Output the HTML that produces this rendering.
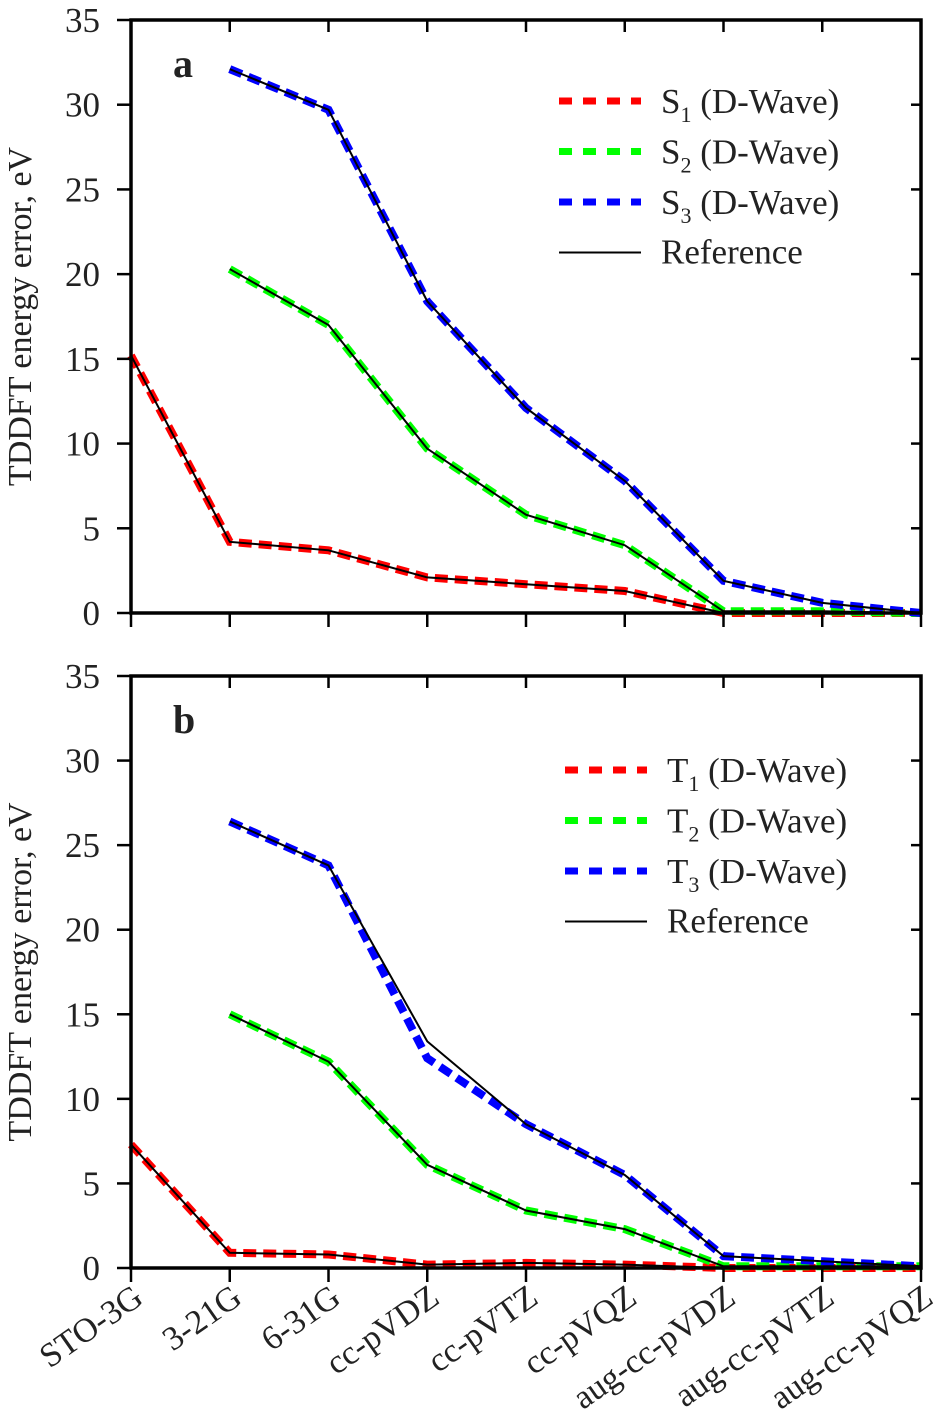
<!DOCTYPE html>
<html><head><meta charset="utf-8"><style>
body{margin:0;background:#fff}
svg{display:block}
text{font-family:"Liberation Serif","Times New Roman",serif}
</style></head><body>
<svg id="chart" width="944" height="1428" viewBox="0 0 944 1428" xmlns="http://www.w3.org/2000/svg"></svg>
<script>
const categories=["STO-3G","3-21G","6-31G","cc-pVDZ","cc-pVTZ","cc-pVQZ","aug-cc-pVDZ","aug-cc-pVTZ","aug-cc-pVQZ"];
const yTicks=[0,5,10,15,20,25,30,35];
const s1=[15.2,4.2,3.7,2.1,1.7,1.3,0.0,0.0,0.0];
const s2=[null,20.3,17.0,9.7,5.8,4.0,0.1,0.1,0.0];
const s3=[null,32.1,29.7,18.4,12.1,7.8,1.9,0.6,0.0];
const s1Ref=[15.2,4.2,3.7,2.1,1.7,1.3,0.0,0.0,0.0];
const s2Ref=[null,20.3,17.0,9.7,5.8,4.0,0.1,0.1,0.0];
const s3Ref=[null,32.1,29.7,18.4,12.1,7.8,1.9,0.6,0.0];
const t1=[7.3,0.9,0.8,0.2,0.3,0.2,0.0,0.0,0.0];
const t2=[null,15.0,12.2,6.1,3.4,2.3,0.1,0.1,0.1];
const t3=[null,26.4,23.8,12.4,8.5,5.5,0.7,0.4,0.1];
const t1Ref=[7.3,0.9,0.8,0.2,0.3,0.2,0.0,0.0,0.0];
const t2Ref=[null,15.0,12.2,6.1,3.4,2.3,0.1,0.1,0.1];
const t3Ref=[null,26.4,23.8,13.4,8.5,5.5,0.7,0.4,0.1];

const NS="http://www.w3.org/2000/svg";
const svg=document.getElementById('chart');
function mk(tag,attrs,parent){const e=document.createElementNS(NS,tag);for(const k in attrs)e.setAttribute(k,attrs[k]);(parent||svg).appendChild(e);return e;}
const X0=131,X1=921;
function xPos(i){return X0+i*(X1-X0)/(categories.length-1);}

function panel(top,bottom,letter,label,series,refs){
  const g=mk('g',{});
  
  
  const y=v=>bottom-v*(bottom-top)/35;
  const colors=['#ff0000','#00ff00','#0000ff'];
  series.forEach((s,k)=>{
    const pts=[];s.forEach((v,i)=>{if(v!==null)pts.push(xPos(i)+','+y(v));});
    const p=mk('polyline',{points:pts.join(' '),fill:'none',stroke:colors[k],'stroke-width':8,'stroke-dasharray':'13 7'},g);
    
    
  });
  refs.forEach((s,k)=>{
    const pts=[];s.forEach((v,i)=>{if(v!==null)pts.push(xPos(i)+','+y(v));});
    const p=mk('polyline',{points:pts.join(' '),fill:'none',stroke:'#000','stroke-width':2},g);
    
    
  });
  const fr=mk('rect',{x:X0,y:top,width:X1-X0,height:bottom-top,fill:'none',stroke:'#000','stroke-width':3.5},g);
  
  
  yTicks.forEach(t=>{
    const yy=y(t);
    mk('line',{x1:X0-14,x2:X0,y1:yy,y2:yy,stroke:'#000','stroke-width':2.5},g);
    mk('line',{x1:X1-10,x2:X1,y1:yy,y2:yy,stroke:'#000','stroke-width':2.5},g);
    const tx=mk('text',{x:X0-31,y:yy+12,'text-anchor':'end','font-size':35,fill:'#222'},g);
    tx.textContent=t;
    
    
  });
  categories.forEach((c,i)=>{
    const xx=xPos(i);
    mk('line',{x1:xx,x2:xx,y1:bottom,y2:bottom+14,stroke:'#000','stroke-width':2.5},g);
    mk('line',{x1:xx,x2:xx,y1:top,y2:top+12,stroke:'#000','stroke-width':2.5},g);
  });
  const yt=mk('text',{transform:`translate(31,${(top+bottom)/2}) rotate(-90)`,'text-anchor':'middle','font-size':34,fill:'#222'},g);
  yt.textContent='TDDFT energy error, eV';
  
  
  const pl=mk('text',{x:173,y:top+57,'font-size':40,'font-weight':'bold',fill:'#222'},g);
  pl.textContent=letter;
  
  
  return {g,y};
}

function legend(x,y0,label){
  const colors=['#ff0000','#00ff00','#0000ff'];
  for(let k=0;k<4;k++){
    const yy=y0+k*50.5;
    const lg=mk('g',{});
    
    
    if(k<3){
      mk('line',{x1:x,x2:x+82,y1:yy,y2:yy,stroke:colors[k],'stroke-width':7,'stroke-dasharray':'13 11'},lg);
      const t=mk('text',{x:x+102,y:yy+12,'font-size':35,fill:'#222'},lg);
      t.innerHTML=label+'<tspan font-size="22" dy="9">'+(k+1)+'</tspan><tspan dy="-9"> (D-Wave)</tspan>';
    }else{
      mk('line',{x1:x,x2:x+82,y1:yy,y2:yy,stroke:'#000','stroke-width':2},lg);
      const t=mk('text',{x:x+102,y:yy+11,'font-size':35,fill:'#222'},lg);
      t.textContent='Reference';
    }
  }
}

panel(20,613,'a','S',[s1,s2,s3],[s1Ref,s2Ref,s3Ref]);
legend(559,101,'S');
panel(676,1268,'b','T',[t1,t2,t3],[t1Ref,t2Ref,t3Ref]);
legend(565,770,'T');

categories.forEach((c,i)=>{
  const xx=xPos(i)+14;
  const t=mk('text',{transform:`translate(${xx},1302) rotate(-35)`,'text-anchor':'end','font-size':34,fill:'#222'});
  t.textContent=c;
  
  
});
</script>
</body></html>
